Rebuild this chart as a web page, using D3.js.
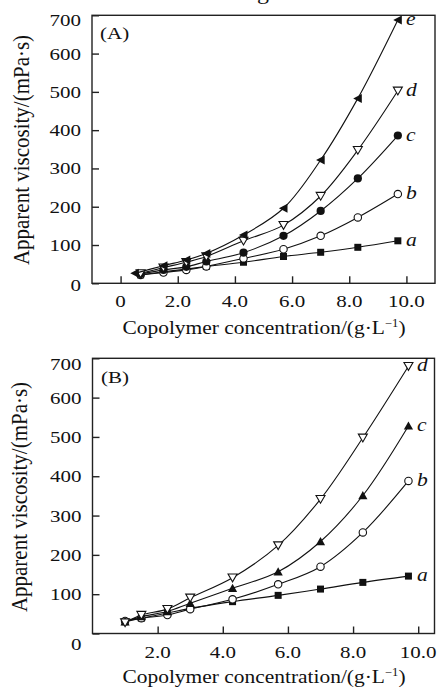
<!DOCTYPE html>
<html><head><meta charset="utf-8">
<script src="https://cdn.jsdelivr.net/npm/d3@7"></script>
<style>
body{margin:0;background:#fff;}
svg{display:block;}
text{font-family:"Liberation Serif","Times New Roman",serif;fill:#111;}
</style></head>
<body>
<svg id="c" width="437" height="689"></svg>
<script>
// ---------- DATA ----------
const concA = [0.7, 1.5, 2.3, 3.0, 4.3, 5.7, 7.0, 8.3, 9.7];
const concA_e = [0.5, 1.5, 2.3, 3.0, 4.3, 5.7, 7.0, 8.3, 9.7];
const A_a = [22, 30, 37, 44, 55, 70, 81, 94, 111];
const A_b = [22, 28, 35, 44, 65, 89, 124, 172, 233];
const A_c = [24, 35, 43, 57, 80, 124, 189, 274, 386];
const A_d = [26, 41, 55, 70, 111, 152, 228, 348, 503];
const A_e = [26, 46, 61, 78, 126, 196, 322, 483, 688];

const concB = [1.0, 1.5, 2.3, 3.0, 4.3, 5.7, 7.0, 8.3, 9.7];
const B_a = [30, 39, 52, 64, 81, 97, 113, 130, 146];
const B_b = [32, 39, 47, 62, 87, 125, 170, 257, 388];
const B_c = [30, 43, 56, 77, 115, 157, 234, 351, 528];
const B_d = [28, 47, 62, 91, 142, 224, 342, 498, 680];

const xTicksA = [0, 2, 4, 6, 8, 10];
const xTickLabelsA = ["0", "2.0", "4.0", "6.0", "8.0", "10.0"];
const xTicksB = [2, 4, 6, 8, 10];
const xTickLabelsB = ["2.0", "4.0", "6.0", "8.0", "10.0"];
const yTicks = [0, 100, 200, 300, 400, 500, 600, 700];
const xTitle = "Copolymer concentration/(g·L";
const yTitle = "Apparent viscosity/(mPa·s)";

// ---------- DRAW ----------
const svg = d3.select("#c");
const SX = 1.2; // horizontal stretch of tick glyphs

// fragment of caption above (cut by the top edge, as in the source)
svg.append("text").attr("transform","translate(263,-1) scale(1.2,1)")
  .attr("text-anchor","middle").attr("font-size",20).text("g");

function panel(cfg){
  const g = svg.append("g");
  const x = d3.scaleLinear().domain(cfg.xd).range(cfg.xr);
  const y = d3.scaleLinear().domain([0,700]).range(cfg.yr);
  const [x0,x1] = cfg.xr, [y0,y1] = cfg.yr;
  g.append("rect").attr("x",x0).attr("y",y1).attr("width",x1-x0).attr("height",y0-y1)
    .attr("fill","none").attr("stroke","#222").attr("stroke-width",1.4);
  const ya = d3.axisLeft(y).tickValues(yTicks).tickSize(-7).tickFormat("");
  const yg = g.append("g").attr("transform",`translate(${x0},0)`).call(ya);
  yg.select(".domain").remove();
  yg.selectAll("line").attr("stroke","#222").attr("stroke-width",1.4);
  yTicks.forEach(v=>{
    let off = 6;
    if (v===700) off = cfg.off700;
    if (v===0) off = cfg.off0;
    g.append("text").attr("transform",`translate(${x0-11},${y(v)+off}) scale(${SX},1)`)
      .attr("text-anchor","end").attr("font-size",17.5).text(v);
  });
  const xa = d3.axisBottom(x).tickValues(cfg.xt).tickSize(-7).tickFormat("");
  const xg = g.append("g").attr("transform",`translate(0,${y0})`).call(xa);
  xg.select(".domain").remove();
  xg.selectAll("line").attr("stroke","#222").attr("stroke-width",1.4);
  cfg.xt.forEach((v,i)=>{
    g.append("text").attr("transform",`translate(${x(v)},${y0+24}) scale(${SX},1)`)
      .attr("text-anchor","middle").attr("font-size",17.5).text(cfg.xl[i]);
  });
  const xt = g.append("text").attr("transform",`translate(${cfg.xTitle[0]},${cfg.xTitle[1]}) scale(1.1,1)`)
    .attr("text-anchor","middle").attr("font-size",19.5);
  xt.append("tspan").text(xTitle);
  xt.append("tspan").attr("font-size",11.5).attr("dy",-7.5).text("−1");
  xt.append("tspan").attr("dy",7.5).text(")");
  g.append("text").attr("transform",`translate(${cfg.yTitle[0]},${cfg.yTitle[1]}) rotate(-90) scale(1,1.05)`)
    .attr("text-anchor","middle").attr("font-size",21).text(yTitle);
  g.append("text").attr("transform",`translate(${cfg.letter[0]},${cfg.letter[1]}) scale(${SX},1)`)
    .attr("font-size",17.5).text(cfg.letter[2]);

  const line = d3.line().x(d=>x(d[0])).y(d=>y(d[1])).curve(d3.curveCatmullRom.alpha(0.5));
  cfg.series.forEach(s=>{
    const pts = s.xs.map((xv,i)=>[xv,s.vals[i]]);
    g.append("path").attr("d",line(pts)).attr("fill","none").attr("stroke","#111").attr("stroke-width",1.1);
    pts.forEach(p=>drawMarker(g, s.m, x(p[0]), y(p[1])));
    const last = pts[pts.length-1];
    g.append("text").attr("transform",`translate(${cfg.labX},${y(last[1])+cfg.labDy}) scale(${SX},1)`)
      .attr("font-size",18).attr("font-style","italic").text(s.name);
  });
}

function drawMarker(g, m, cx, cy){
  const r = 3.7;
  if (m==="sq") g.append("rect").attr("x",cx-3.5).attr("y",cy-3.5).attr("width",7).attr("height",7).attr("fill","#111");
  else if (m==="oc") g.append("circle").attr("cx",cx).attr("cy",cy).attr("r",r).attr("fill","#fff").attr("stroke","#111").attr("stroke-width",1.1);
  else if (m==="fc") g.append("circle").attr("cx",cx).attr("cy",cy).attr("r",r+0.4).attr("fill","#111");
  else if (m==="dt") g.append("path").attr("d",`M${cx-4.5},${cy-3.6}L${cx+4.5},${cy-3.6}L${cx},${cy+4.2}Z`).attr("fill","#fff").attr("stroke","#111").attr("stroke-width",1.1);
  else if (m==="ut") g.append("path").attr("d",`M${cx-4.6},${cy+3.7}L${cx+4.6},${cy+3.7}L${cx},${cy-4.5}Z`).attr("fill","#111");
  else if (m==="lt") g.append("path").attr("d",`M${cx+4},${cy-4.5}L${cx+4},${cy+4.5}L${cx-4.6},${cy}Z`).attr("fill","#111");
}

panel({
  xd:[-1,11], xr:[92,435], yr:[283.3,15.3],
  xt:xTicksA, xl:xTickLabelsA, off700:11, off0:8,
  xTitle:[264,334], yTitle:[29,150], letter:[100,38.5,"(A)"],
  labX:406, labDy:5,
  series:[
    {name:"a", m:"sq", xs:concA, vals:A_a},
    {name:"b", m:"oc", xs:concA, vals:A_b},
    {name:"c", m:"fc", xs:concA, vals:A_c},
    {name:"d", m:"dt", xs:concA, vals:A_d},
    {name:"e", m:"lt", xs:concA_e, vals:A_e}
  ]
});
panel({
  xd:[0,10.5], xr:[92.5,434.5], yr:[633.5,358.3],
  xt:xTicksB, xl:xTickLabelsB, off700:12, off0:16,
  xTitle:[264,683], yTitle:[27,497], letter:[101,383,"(B)"],
  labX:417, labDy:5,
  series:[
    {name:"a", m:"sq", xs:concB, vals:B_a},
    {name:"b", m:"oc", xs:concB, vals:B_b},
    {name:"c", m:"ut", xs:concB, vals:B_c},
    {name:"d", m:"dt", xs:concB, vals:B_d}
  ]
});
</script>
</body></html>
